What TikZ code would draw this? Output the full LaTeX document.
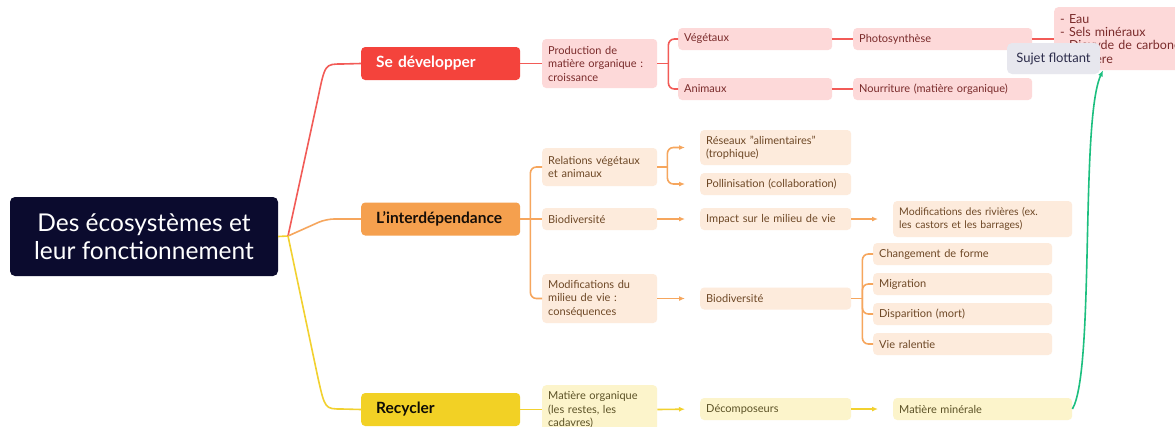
\documentclass[tikz,border=0pt]{standalone}
\usepackage{fontspec}
\setmainfont{Lato}
\usepackage{tikz}
\usetikzlibrary{positioning}
\usetikzlibrary{arrows.meta}
\definecolor{rootcol}{HTML}{0B0B2E}
\definecolor{redmain}{HTML}{F4433C}
\definecolor{redline}{HTML}{F25B57}
\definecolor{redlight}{HTML}{FDD9D9}
\definecolor{redtext}{HTML}{7A2B2B}
\definecolor{orgmain}{HTML}{F5A04E}
\definecolor{orgline}{HTML}{F6A65D}
\definecolor{orglight}{HTML}{FDEBDC}
\definecolor{orgtext}{HTML}{6E4826}
\definecolor{yelmain}{HTML}{F2D125}
\definecolor{yelline}{HTML}{F2D12F}
\definecolor{yellight}{HTML}{FCF4CB}
\definecolor{yeltext}{HTML}{5C5226}
\definecolor{floatcol}{HTML}{E7E7EE}
\definecolor{floattext}{HTML}{2B2B4A}
\definecolor{greencol}{HTML}{1CBF7F}
\tikzset{>={Latex[length=6pt,width=5pt]}}

\begin{document}
\begin{tikzpicture}[x=1pt,y=-1pt,
  every node/.style={font=\fontsize{11}{13.5}\selectfont},
  root/.style={fill=rootcol, text=white, rounded corners=5pt, minimum width=268pt,
    minimum height=79pt, align=center, font=\fontsize{24.5}{28}\selectfont},
  topic/.style={rounded corners=4pt, anchor=west, minimum width=159pt, minimum height=33pt,
    text width=129pt, inner xsep=15pt, align=left, font=\bfseries\fontsize{15.5}{17}\selectfont},
  box/.style={rounded corners=4pt, inner xsep=6pt, inner ysep=0pt, anchor=west, align=left,
    minimum height=22pt},
  col1/.style={text width=103pt},
  col2/.style={text width=139pt},
  col3/.style={text width=167pt},
  rbox/.style={box, fill=redlight, text=redtext},
  obox/.style={box, fill=orglight, text=orgtext},
  ybox/.style={box, fill=yellight, text=yeltext},
  rline/.style={draw=redline, line width=1.6pt},
  oline/.style={draw=orgline, line width=1.6pt},
  yline/.style={draw=yelline, line width=1.6pt},
  oarr/.style={oline, ->, shorten >=15pt},
  yarr/.style={yline, ->, shorten >=15pt}
]
\useasboundingbox (0,0) rectangle (1175,426);
\clip (0,0) rectangle (1175,426);
\fill[white] (0,0) rectangle (1175,426);

% ---------------- Root ----------------
\node[root] (eco) at (144,236.5) {Des écosystèmes et\\leur fonctionnement};
\coordinate (j) at (288,236);

% ---------------- Main topics ----------------
\node[topic, fill=redmain, text=white] (dev) at (361,63.5) {Se développer};
\node[topic, fill=orgmain, text=black!80!orgtext] (inter) at (361,219) {L’interdépendance};
\node[topic, fill=yelmain, text=black!85!yeltext] (rec) at (361,409.5) {Recycler};

\draw[yline] (eco.east) -- (j);
\draw[rline] (j) -- (318,98) .. controls (325,64) .. (342,64) -- (dev.west);
\draw[oline, rounded corners=8pt] (j) -- (326,219) -- (inter.west);
\draw[yline] (j) -- (318,378) .. controls (325,409) .. (342,409) -- (rec.west);

% ---------------- Se developper ----------------
\node[rbox, col1, minimum height=49pt] (prod) at (542,63.5)
  {Production de\\matière organique :\\croissance};
\node[rbox, text width=142pt] (veg) at (678,39) {Végétaux};
\node[rbox, text width=142pt] (ani) at (678,89) {Animaux};
\node[rbox, col3] (photo) at (853,39) {Photosynthèse};
\node[rbox, col3] (nour) at (853,89) {Nourriture (matière organique)};
\node[rbox, anchor=north west, text width=128pt, minimum height=63pt, inner ysep=4pt,
  font=\fontsize{12.5}{13.3}\selectfont]
  (list) at (1054,7) {- Eau\\- Sels minéraux\\- Dioxyde de carbone\\- Lumière};

\draw[rline] (dev.east) -- (prod.west);
\draw[rline] (prod.east) -- ++(11,0) coordinate (b1);
\draw[rline, rounded corners=6pt] (veg.west) -| (b1) |- (ani.west);
\draw[rline] (veg.east) -- (photo.west);
\draw[rline] (ani.east) -- (nour.west);
\draw[rline] (photo.east) -- (list.west |- photo.east);

% ---------------- L'interdependance ----------------
\node[obox, col1, minimum height=38pt] (rel) at (542,167) {Relations végétaux\\et animaux};
\node[obox, col1] (bio) at (542,219) {Biodiversité};
\node[obox, col1, minimum height=49pt] (modm) at (542,298.5)
  {Modifications du\\milieu de vie :\\conséquences};
\node[obox, col2, minimum height=35pt] (res) at (700,147.5)
  {Réseaux "alimentaires"\\(trophique)};
\node[obox, col2] (pol) at (700,184) {Pollinisation (collaboration)};
\node[obox, col2] (imp) at (700,219) {Impact sur le milieu de vie};
\node[obox, col2] (bio2) at (700,298.5) {Biodiversité};
\node[obox, col3, minimum height=36pt, font=\fontsize{10.5}{13.5}\selectfont] (riv) at (893,219)
  {Modifications des rivières (ex.\\les castors et les barrages)};
\node[obox, col3] (chg) at (873,254) {Changement de forme};
\node[obox, col3] (mig) at (873,284) {Migration};
\node[obox, col3] (dis) at (873,314) {Disparition (mort)};
\node[obox, col3] (vie) at (873,344) {Vie ralentie};

\draw[oline] (inter.east) -- (bio.west);
\draw[oline, rounded corners=6pt] (rel.west) -| ([xshift=10pt]inter.east) |- (modm.west);
\draw[oline] (rel.east) -- ++(10,0) coordinate (b3);
\draw[oarr, rounded corners=6pt] (b3) |- (res.west);
\draw[oarr, rounded corners=6pt] (b3) |- (pol.west);
\draw[oarr] (bio.east) -- (imp.west);
\draw[oarr] (imp.east) -- (riv.west);
\draw[oarr] (modm.east) -- (bio2.west);
\draw[oline] (bio2.east) -- ++(11,0) coordinate (b4);
\draw[oline, rounded corners=6pt] (chg.west) -| (b4) |- (vie.west);
\draw[oline, rounded corners=6pt] (mig.west) -| (b4);
\draw[oline, rounded corners=6pt] (dis.west) -| (b4);

% ---------------- Recycler ----------------
\node[ybox, col1, anchor=north west, minimum height=48pt, inner ysep=6.5pt] (mat) at (542,385)
  {Matière organique\\(les restes, les\\cadavres)};
\node[ybox, col2] (dec) at (700,409) {Décomposeurs};
\node[ybox, col3] (mine) at (893,409) {Matière minérale};

\draw[yline] (rec.east) -- (mat.west |- rec.east);
\draw[yarr] (mat.east |- rec.east) -- (dec.west);
\draw[yarr] (dec.east) -- (mine.west);

% ---------------- Floating topic ----------------
\draw[draw=greencol, line width=1.6pt, ->] (mine.east)
  .. controls (1095,370) and (1080,120) .. ([xshift=49pt]list.south west);
\node[fill=floatcol, text=floattext, rounded corners=5pt, minimum width=93pt,
  minimum height=31pt, font=\fontsize{13}{15}\selectfont] (float) at (1053.5,58.5)
  {Sujet flottant};

\end{tikzpicture}
\end{document}
